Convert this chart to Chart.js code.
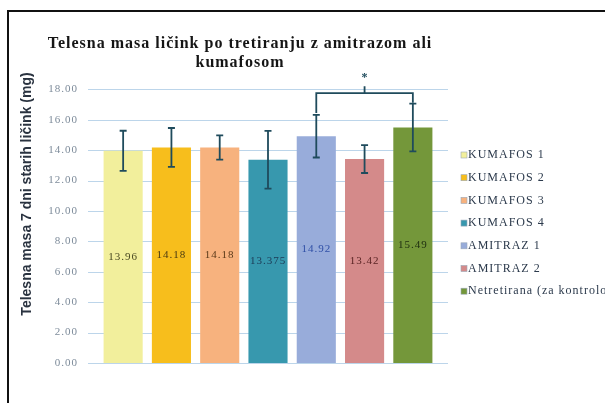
<!DOCTYPE html>
<html>
<head>
<meta charset="utf-8">
<script src="https://cdn.jsdelivr.net/npm/chart.js@4/dist/chart.umd.min.js"></script>
<style>
  html, body { margin: 0; padding: 0; background: #fff; }
  #wrap { width: 605px; height: 403px; }
</style>
</head>
<body>
<div id="wrap"><canvas id="chart"></canvas></div>
<script>
// ─────────────────────────────
// DATA
// ─────────────────────────────
const groups = ["KUMAFOS 1", "KUMAFOS 2", "KUMAFOS 3", "KUMAFOS 4", "AMITRAZ 1", "AMITRAZ 2", "Netretirana (za kontrolo)"];
const meanMass = [13.96, 14.18, 14.18, 13.375, 14.92, 13.42, 15.49];
const errMass = [1.32, 1.28, 0.8, 1.9, 1.4, 0.92, 1.57];
const valueLabels = ["13.96", "14.18", "14.18", "13.375", "14.92", "13.42", "15.49"];
const yTicks = [0, 2, 4, 6, 8, 10, 12, 14, 16, 18];
// significance bracket: between group 5 and 7
const sigPair = [4, 6];
const sigLevel = 17.75;
const sigMark = "*";

const titleLines = ["Telesna masa ličink po tretiranju z amitrazom ali", "kumafosom"];
const yTitle = "Telesna masa 7 dni starih ličink (mg)";

// ─────────────────────────────
// STYLE
// ─────────────────────────────
const barColors = ["#f2ef9c", "#f7be1c", "#f7b27e", "#3798ae", "#98acda", "#d48a8a", "#74973a"];
const labelColors = ["#4a4a22", "#4a3a12", "#5a3a1a", "#1c3a55", "#2f4fa6", "#5a2424", "#1e2e10"];
const inkColor = "#1f4b5c";
const gridColor = "#bcd5ea";

function spacing(ctx, v) {
    if ("letterSpacing" in ctx) ctx.letterSpacing = v;
}

// ─────────────────────────────
// PLUGINS
// ─────────────────────────────
const framePlugin = {
    id: "frame",
    beforeDraw(chart) {
        const ctx = chart.ctx;
        ctx.save();
        ctx.fillStyle = "#fff";
        ctx.fillRect(0, 0, chart.width, chart.height);
        ctx.strokeStyle = "#111";
        ctx.lineWidth = 2;
        ctx.strokeRect(8, 11, 700, 500);
        ctx.restore();
        // wide glyphs like the source picture (title + ticks)
        spacing(ctx, "1px");
    },
    afterDraw(chart) {
        spacing(chart.ctx, "0px");
    }
};

const gridPlugin = {
    id: "extGrid",
    beforeDatasetsDraw(chart) {
        const ctx = chart.ctx;
        const y = chart.scales.y;
        const a = chart.chartArea;
        ctx.save();
        ctx.strokeStyle = gridColor;
        ctx.lineWidth = 1;
        yTicks.forEach(v => {
            const py = Math.round(y.getPixelForValue(v)) + 0.5;
            ctx.beginPath();
            ctx.moveTo(a.left - 11, py);
            ctx.lineTo(a.right + 11, py);
            ctx.stroke();
        });
        ctx.restore();
    }
};

const yTitlePlugin = {
    id: "yTitle",
    afterDraw(chart) {
        const ctx = chart.ctx;
        ctx.save();
        spacing(ctx, "0px");
        ctx.translate(27, 194);
        ctx.rotate(-Math.PI / 2);
        ctx.font = "bold 14px 'Liberation Sans', Arial, sans-serif";
        ctx.fillStyle = "#2a3340";
        ctx.textAlign = "center";
        ctx.textBaseline = "middle";
        ctx.fillText(yTitle, 0, 0);
        ctx.restore();
    }
};

const overlayPlugin = {
    id: "overlay",
    afterDatasetsDraw(chart) {
        const ctx = chart.ctx;
        const x = chart.scales.x;
        const y = chart.scales.y;
        ctx.save();

        // value labels
        spacing(ctx, "1px");
        ctx.font = "11px 'Liberation Serif', 'Times New Roman', serif";
        ctx.textAlign = "center";
        ctx.textBaseline = "middle";
        meanMass.forEach((v, i) => {
            ctx.fillStyle = labelColors[i];
            ctx.fillText(valueLabels[i], x.getPixelForValue(i), y.getPixelForValue(v / 2));
        });

        // error bars
        ctx.strokeStyle = inkColor;
        ctx.lineWidth = 1.8;
        meanMass.forEach((v, i) => {
            const px = x.getPixelForValue(i);
            const top = y.getPixelForValue(v + errMass[i]);
            const bot = y.getPixelForValue(v - errMass[i]);
            ctx.beginPath();
            ctx.moveTo(px, top); ctx.lineTo(px, bot);
            ctx.moveTo(px - 3.5, top); ctx.lineTo(px + 3.5, top);
            ctx.moveTo(px - 3.5, bot); ctx.lineTo(px + 3.5, bot);
            ctx.stroke();
        });

        // significance bracket
        const x1 = x.getPixelForValue(sigPair[0]);
        const x2 = x.getPixelForValue(sigPair[1]);
        const by = y.getPixelForValue(sigLevel);
        const y1 = y.getPixelForValue(meanMass[sigPair[0]] + errMass[sigPair[0]]);
        const y2 = y.getPixelForValue(meanMass[sigPair[1]] + errMass[sigPair[1]]);
        ctx.beginPath();
        ctx.moveTo(x1, y1 - 2); ctx.lineTo(x1, by); ctx.lineTo(x2, by); ctx.lineTo(x2, y2 - 1);
        ctx.moveTo((x1 + x2) / 2, by); ctx.lineTo((x1 + x2) / 2, by - 7);
        ctx.stroke();
        ctx.fillStyle = inkColor;
        spacing(ctx, "0px");
        ctx.font = "bold 12px 'Liberation Serif', serif";
        ctx.fillText(sigMark, (x1 + x2) / 2, by - 15);

        ctx.restore();
    }
};

const legendPlugin = {
    id: "sideLegend",
    afterDraw(chart) {
        const ctx = chart.ctx;
        ctx.save();
        ctx.font = "12px 'Liberation Serif', 'Times New Roman', serif";
        ctx.textBaseline = "middle";
        ctx.textAlign = "left";
        groups.forEach((g, i) => {
            const cy = 155 + i * 22.7;
            ctx.fillStyle = barColors[i];
            ctx.fillRect(461, cy - 3, 6, 6);
            ctx.strokeStyle = "#9aa8b8";
            ctx.lineWidth = 0.6;
            ctx.strokeRect(461, cy - 3, 6, 6);
            ctx.fillStyle = "#2c3a4c";
            spacing(ctx, "1px");
            ctx.fillText(g, 468, cy);
            spacing(ctx, "0px");
        });
        ctx.restore();
    }
};

// ─────────────────────────────
// CHART
// ─────────────────────────────
new Chart(document.getElementById("chart"), {
    type: "bar",
    data: {
        labels: groups,
        datasets: [{
            data: meanMass,
            backgroundColor: barColors,
            borderWidth: 0,
            barPercentage: 0.81,
            categoryPercentage: 1
        }]
    },
    options: {
        responsive: true,
        maintainAspectRatio: false,
        animation: false,
        layout: { padding: { left: 43, right: 168, top: 0, bottom: 40 } },
        plugins: {
            legend: { display: false },
            tooltip: { enabled: false },
            title: {
                display: true,
                text: titleLines,
                color: "#151515",
                font: { family: "'Liberation Serif', 'Times New Roman', serif", size: 16, weight: "bold", lineHeight: 1.2 },
                padding: { top: 34, bottom: 17 }
            }
        },
        scales: {
            x: { display: false, offset: true },
            y: {
                min: 0,
                max: 18,
                afterFit(scale) { scale.width = 56; },
                afterBuildTicks(scale) { scale.ticks = yTicks.map(v => ({ value: v })); },
                grid: { display: false, drawTicks: false },
                border: { display: false },
                ticks: {
                    padding: 21,
                    color: "#7d8b9a",
                    font: { family: "'Liberation Serif', 'Times New Roman', serif", size: 11 },
                    callback: v => v.toFixed(2)
                }
            }
        }
    },
    plugins: [framePlugin, gridPlugin, overlayPlugin, yTitlePlugin, legendPlugin]
});
</script>
</body>
</html>
